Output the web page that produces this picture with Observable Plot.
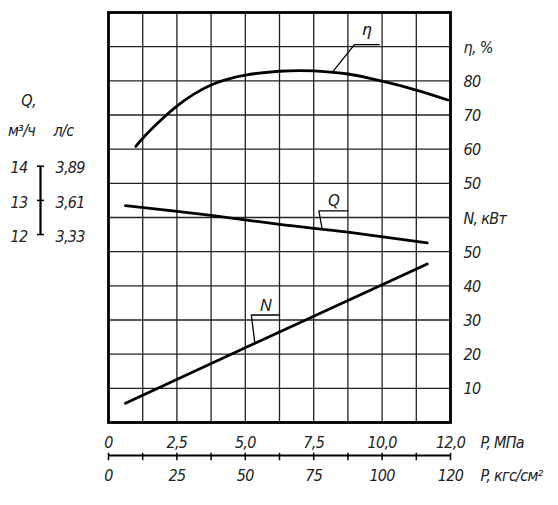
<!DOCTYPE html>
<html><head><meta charset="utf-8">
<script src="https://cdn.jsdelivr.net/npm/d3@7"></script>
<script src="https://cdn.jsdelivr.net/npm/@observablehq/plot@0.6"></script>
<style>
html,body{margin:0;padding:0;background:#fff;}
#chart svg{display:block;}
#chart svg text{font-stretch:condensed;letter-spacing:-0.7px;}
</style></head><body><div id="chart"></div>
<script>
// η (efficiency, %) vs pressure P (MPa)
const etaP   = [1.0, 1.25, 1.9, 2.5, 3.12, 3.75, 4.4, 5.0, 6.25, 7.0, 7.5, 8.75, 10.0, 11.25, 12.4];
const etaVal = [60.8, 63.2, 68.4, 72.6, 76.1, 78.8, 80.6, 81.7, 82.8, 83.0, 82.9, 82.0, 79.9, 77.3, 74.4];
// Q (flow, m³/h) vs P
const qP   = [0.62, 3.75, 6.25, 8.75, 11.65];
const qVal = [12.85, 12.56, 12.30, 12.07, 11.76];
// N (power, kW) vs P
const nP   = [0.62, 6.25, 11.65];
const nVal = [5.65, 26.5, 46.4];

// tick values & labels
const pTicks      = [0, 2.5, 5, 7.5, 10, 12.5];
const pMpaLabels  = ["0", "2,5", "5,0", "7,5", "10,0", "12,0"];
const pKgfLabels  = ["0", "25", "50", "75", "100", "120"];
const etaTicks    = [50, 60, 70, 80];
const nTicks      = [10, 20, 30, 40, 50];
const qTicksM3h   = [12, 13, 14];
const qTicksLs    = ["3,33", "3,61", "3,89"];

// common vertical scale is in N units; the other axes map onto it
const etaY = e => e + 20;
const qY   = q => 10 * q - 65;
const nY   = n => n;

const FONT = "'DejaVu Sans Condensed', 'DejaVu Sans', sans-serif";
const SERIF = "'Liberation Serif', 'DejaVu Serif', serif";
const FS = 16;

const rows = (xs, vs, f) => xs.map((p, i) => ({p, v: f(vs[i])}));
const etaData = rows(etaP, etaVal, etaY);
const qData   = rows(qP, qVal, qY);
const nData   = rows(nP, nVal, nY);

function interp(data, x) {
  for (let i = 1; i < data.length; i++) {
    if (x <= data[i].p) {
      const a = data[i-1], b = data[i];
      return a.v + (b.v - a.v) * (x - a.p) / (b.p - a.p);
    }
  }
  return data[data.length-1].v;
}

// leader annotations: point on curve, elbow offset, horizontal run
const leaders = [
  {text: "η", data: etaData, at: 8.17, ex: 0.82, ey: 8.2, run: 0.91, lift: 4.4, font: SERIF},
  {text: "Q", data: qData,   at: 7.81, ex: -0.12, ey: 5.4, run: 1.06, lift: 3.0, font: FONT},
  {text: "N", data: nData,   at: 5.35, ex: -0.13, ey: 8.3, run: 1.03, lift: 2.9, font: FONT}
];
const leaderLines = leaders.map(l => {
  const y0 = interp(l.data, l.at);
  return [
    {p: l.at, v: y0},
    {p: l.at + l.ex, v: y0 + l.ey},
    {p: l.at + l.ex + l.run, v: y0 + l.ey}
  ];
});
const leaderLabels = leaders.map(l => {
  const y0 = interp(l.data, l.at);
  return {p: l.at + l.ex + l.run / 2, v: y0 + l.ey + l.lift, text: l.text, font: l.font};
});

const hdash = {draw(ctx, size) { const r = Math.sqrt(size) / 2; ctx.moveTo(-r, 0); ctx.lineTo(r, 0); }};
const vdash = {draw(ctx, size) { const r = Math.sqrt(size) / 2; ctx.moveTo(0, -r); ctx.lineTo(0, r); }};

const txt = {fontFamily: FONT, fontSize: FS, fontStyle: "italic", fill: "#222"};

const chart = Plot.plot({
  width: 558, height: 505,
  marginLeft: 108, marginRight: 108, marginTop: 12, marginBottom: 83,
  x: {domain: [0, 12.5], axis: null},
  y: {domain: [0, 120], axis: null},
  style: {background: "#fff"},
  marks: [
    // grid
    Plot.ruleX(d3.range(0, 12.5 + 1e-9, 1.25), {stroke: "#222", strokeWidth: 1.3}),
    Plot.ruleY(d3.range(0, 120 + 1e-9, 10), {stroke: "#222", strokeWidth: 1.3}),
    Plot.frame({stroke: "#000", strokeWidth: 2.8}),

    // curves
    Plot.line(etaData, {x: "p", y: "v", curve: "catmull-rom", stroke: "#000", strokeWidth: 2.8}),
    Plot.line(qData, {x: "p", y: "v", curve: "catmull-rom", stroke: "#000", strokeWidth: 2.8}),
    Plot.line(nData, {x: "p", y: "v", stroke: "#000", strokeWidth: 2.8}),

    // leaders
    ...leaderLines.map(pts => Plot.line(pts, {x: "p", y: "v", stroke: "#000", strokeWidth: 1.3})),
    Plot.text(leaderLabels, {x: "p", y: "v", text: "text", fontFamily: d => d.font, fontSize: FS + 1, fontStyle: "italic", fill: "#222"}),

    // right axes (η and N)
    Plot.text(etaTicks, {y: etaY, text: d => String(d), frameAnchor: "right", dx: 13, dy: 1, textAnchor: "start", ...txt}),
    Plot.text(["η, %"], {y: () => etaY(90), frameAnchor: "right", dx: 13, dy: 1, textAnchor: "start", ...txt}),
    Plot.text(nTicks, {y: nY, text: d => String(d), frameAnchor: "right", dx: 13, dy: 1, textAnchor: "start", ...txt}),
    Plot.text(["N, кВт"], {y: () => nY(60), frameAnchor: "right", dx: 13, dy: 1, textAnchor: "start", ...txt}),

    // left Q axis (bracket)
    Plot.ruleX([0], {y1: qY(qTicksM3h[0]), y2: qY(qTicksM3h[qTicksM3h.length - 1]), dx: -68, stroke: "#000", strokeWidth: 2.2}),
    Plot.dot(qTicksM3h, {x: () => 0, y: qY, dx: -68, symbol: hdash, r: 4, stroke: "#000", strokeWidth: 1.5}),
    Plot.text(qTicksM3h, {y: qY, text: d => String(d), frameAnchor: "left", dx: -81, dy: 2, textAnchor: "end", ...txt}),
    Plot.text(qTicksM3h, {y: qY, text: (d, i) => qTicksLs[i], frameAnchor: "left", dx: -53, dy: 2, textAnchor: "start", ...txt}),
    Plot.text(["Q,"], {frameAnchor: "top-left", dx: -80, dy: 82, textAnchor: "middle", ...txt}),
    Plot.text(["м³/ч"], {frameAnchor: "top-left", dx: -87, dy: 112, textAnchor: "middle", ...txt}),
    Plot.text(["л/с"], {frameAnchor: "top-left", dx: -45, dy: 112, textAnchor: "middle", ...txt}),

    // bottom pressure axis
    Plot.ruleY([0], {dy: 33, stroke: "#000", strokeWidth: 2.2}),
    Plot.dot(d3.range(0, 12.5 + 1e-9, 1.25), {x: d => d, frameAnchor: "bottom", dy: 34, symbol: vdash, r: 4.2, stroke: "#000", strokeWidth: 1.5}),
    Plot.text(pTicks, {x: d => d, text: (d, i) => pMpaLabels[i], frameAnchor: "bottom", dy: 25, ...txt}),
    Plot.text(pTicks, {x: d => d, text: (d, i) => pKgfLabels[i], frameAnchor: "bottom", dy: 58, ...txt}),
    Plot.text(["P, МПа"], {frameAnchor: "bottom-right", dx: 30, dy: 25, textAnchor: "start", ...txt}),
    Plot.text(["P, кгс/см²"], {frameAnchor: "bottom-right", dx: 30, dy: 58, textAnchor: "start", ...txt})
  ]
});
document.getElementById("chart").appendChild(chart);
</script>
</body></html>
